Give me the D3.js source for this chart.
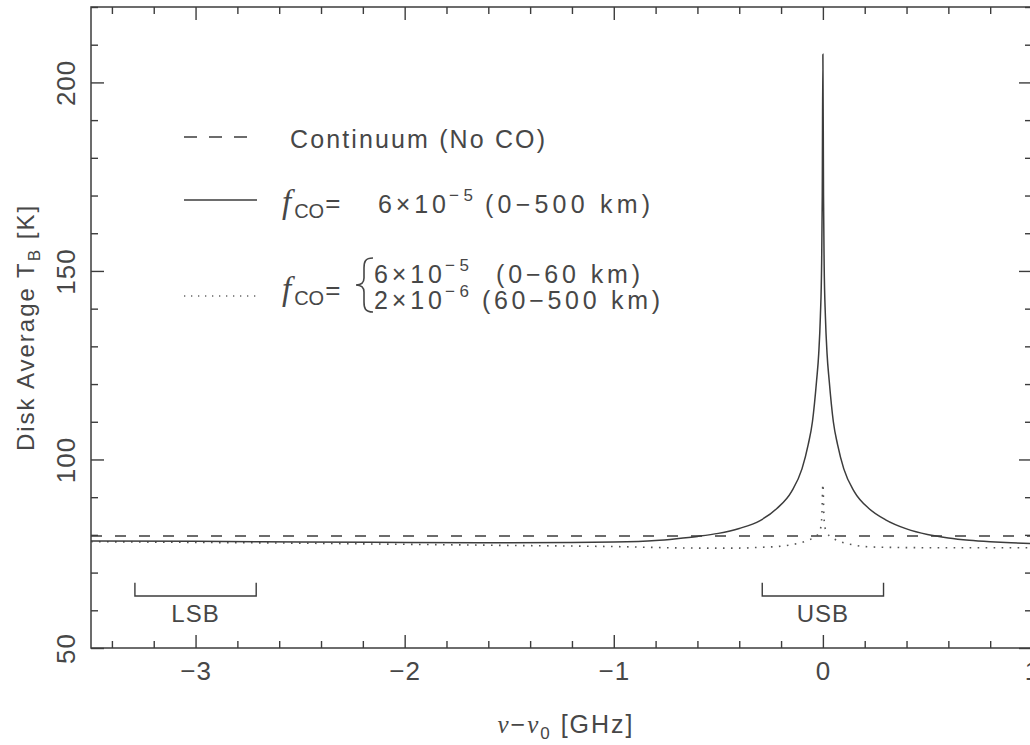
<!DOCTYPE html>
<html><head><meta charset="utf-8">
<script src="https://cdn.jsdelivr.net/npm/d3@7"></script>
<style>
body{margin:0;background:#fff;}
text{font-family:"Liberation Sans",Arial,sans-serif;fill:#474747;}
</style></head>
<body><svg id="c" width="1030" height="745"></svg>
<script>
// ---- data ----
const xDomain = [-3.5, 1];
const yDomain = [50, 220];
const xMajorTicks = [-3, -2, -1, 0, 1];
const xTickLabels = ["−3", "−2", "−1", "0", "1"];
const yMajorTicks = [50, 100, 150, 200];
const yTickLabels = ["50", "100", "150", "200"];

const contX = [-3.5, 1.0];
const contT = [79.7, 79.7];

const solidX = [-3.5,-3.0,-2.5,-2.0,-1.5,-1.2,-1.0,-0.8,-0.7,-0.6,-0.5,-0.4,-0.3,-0.22,-0.15,-0.1,-0.07,-0.05,-0.03,-0.02,-0.012,-0.006,-0.003,0,
                0.003,0.006,0.012,0.02,0.03,0.05,0.07,0.1,0.15,0.22,0.3,0.4,0.5,0.6,0.7,0.8,0.9,1.0];
const solidT = [78.4,78.3,78.1,78.0,77.9,78.0,78.1,78.5,79.0,79.6,80.4,81.7,83.8,87.0,91.5,97.5,104,110,121,128,138,152,170,207.5,
                170,152,138,128,121,110,104,97.5,91.5,87.0,84.0,81.6,80.1,79.2,78.6,78.2,77.9,77.7];

const dotX = [-3.5,-3.0,-2.5,-2.0,-1.5,-1.0,-0.6,-0.4,-0.3,-0.2,-0.15,-0.1,-0.07,-0.04,-0.02,-0.01,-0.005,0,
              0.005,0.01,0.02,0.04,0.07,0.1,0.15,0.2,0.3,0.5,1.0];
const dotT = [78.2,78.0,77.8,77.5,77.2,76.9,76.5,76.5,76.7,77.0,77.4,78.0,78.6,79.4,80.5,82.0,85.0,93.5,
              85.0,82.0,80.5,79.4,78.5,77.9,77.3,76.9,76.7,76.6,76.6];

const bandNames = ["LSB", "USB"];
const bandLo = [-3.29, -0.29];
const bandHi = [-2.71, 0.29];
const bandBarT = 63.8, bandTickT = 67.3, bandLabelT = 56.9;

// ---- layout ----
const svg = d3.select("#c");
const L = 91, R = 1032, T = 7, B = 648;
const x = d3.scaleLinear().domain(xDomain).range([L, R]);
const y = d3.scaleLinear().domain(yDomain).range([B, T]);
const ink = "#3c3c3c";

const xMinor = d3.range(-3.4, 1.01, 0.2).map(v => +v.toFixed(2)).filter(v => Math.abs(v - Math.round(v)) > 1e-6);
const yMinor = d3.range(60, 221, 10).filter(v => v % 50 !== 0);

function styleAxis(g){ g.select(".domain").remove(); g.selectAll("line").attr("stroke", ink).attr("stroke-width", 1.4); }

// frame
svg.append("rect").attr("x", L).attr("y", T).attr("width", R - L).attr("height", B - T)
  .attr("fill", "none").attr("stroke", ink).attr("stroke-width", 1.5);

// bottom
svg.append("g").attr("transform", `translate(0,${B})`)
  .call(d3.axisBottom(x).tickValues(xMajorTicks).tickSize(-13).tickPadding(14).tickFormat((d,i) => xTickLabels[i]))
  .call(styleAxis)
  .call(g => g.selectAll("text").attr("font-size", 26).attr("fill", "#474747").attr("font-family", "Liberation Sans, Arial, sans-serif").style("letter-spacing", "1px"));
svg.append("g").attr("transform", `translate(0,${B})`)
  .call(d3.axisBottom(x).tickValues(xMinor).tickSize(-7).tickFormat(""))
  .call(styleAxis);
// top
svg.append("g").attr("transform", `translate(0,${T})`)
  .call(d3.axisTop(x).tickValues(xMajorTicks).tickSize(-13).tickFormat(""))
  .call(styleAxis);
svg.append("g").attr("transform", `translate(0,${T})`)
  .call(d3.axisTop(x).tickValues(xMinor).tickSize(-7).tickFormat(""))
  .call(styleAxis);
// left
svg.append("g").attr("transform", `translate(${L},0)`)
  .call(d3.axisLeft(y).tickValues(yMajorTicks).tickSize(-13).tickFormat((d,i) => yTickLabels[i]))
  .call(styleAxis)
  .call(g => g.selectAll("text").attr("x", null).attr("dy", null)
      .attr("transform", "translate(-16,0) rotate(-90)").attr("text-anchor", "middle")
      .attr("font-size", 26).attr("fill", "#474747").attr("font-family", "Liberation Sans, Arial, sans-serif").style("letter-spacing", "1px"));
svg.append("g").attr("transform", `translate(${L},0)`)
  .call(d3.axisLeft(y).tickValues(yMinor).tickSize(-7).tickFormat(""))
  .call(styleAxis);
// right
svg.append("g").attr("transform", `translate(${R},0)`)
  .call(d3.axisRight(y).tickValues(yMajorTicks).tickSize(-13).tickFormat(""))
  .call(styleAxis);
svg.append("g").attr("transform", `translate(${R},0)`)
  .call(d3.axisRight(y).tickValues(yMinor).tickSize(-7).tickFormat(""))
  .call(styleAxis);

// curves
const line = d3.line().x(d => x(d[0])).y(d => y(d[1])).curve(d3.curveMonotoneX);
const plot = svg.append("g");
plot.append("path").datum(d3.zip(contX, contT)).attr("d", line)
  .attr("fill", "none").attr("stroke", ink).attr("stroke-width", 1.5).attr("stroke-dasharray", "11,13");
plot.append("path").datum(d3.zip(dotX, dotT)).attr("d", line)
  .attr("fill", "none").attr("stroke", "#555").attr("stroke-width", 1.6).attr("stroke-dasharray", "1.6,6.4");
plot.append("path").datum(d3.zip(solidX, solidT)).attr("d", line)
  .attr("fill", "none").attr("stroke", ink).attr("stroke-width", 1.5);

// sidebands
bandNames.forEach((n, i) => {
  const x0 = x(bandLo[i]), x1 = x(bandHi[i]);
  svg.append("path").attr("d", `M${x0},${y(bandTickT)}V${y(bandBarT)}H${x1}V${y(bandTickT)}`)
    .attr("fill", "none").attr("stroke", ink).attr("stroke-width", 1.4);
  svg.append("text").attr("x", (x0 + x1) / 2).attr("y", y(bandLabelT)).attr("text-anchor", "middle")
    .attr("font-size", 24).style("letter-spacing", "1px").text(n);
});

// axis titles
const xt = svg.append("text").attr("x", 566).attr("y", 733).attr("text-anchor", "middle").attr("font-size", 25).style("letter-spacing", "2px");
xt.append("tspan").attr("font-family", "Liberation Serif, serif").attr("font-style", "italic").text("ν");
xt.append("tspan").text("−");
xt.append("tspan").attr("font-family", "Liberation Serif, serif").attr("font-style", "italic").text("ν");
xt.append("tspan").attr("font-size", 17).attr("dy", 6).text("0");
xt.append("tspan").attr("dy", -6).text(" [GHz]");

const yt = svg.append("text").attr("transform", `translate(34,${(T + B) / 2}) rotate(-90)`).attr("text-anchor", "middle").attr("font-size", 24).style("letter-spacing", "2px");
yt.append("tspan").text("Disk Average T");
yt.append("tspan").attr("font-size", 17).attr("dy", 6).text("B");
yt.append("tspan").attr("dy", -6).text(" [K]");

// legend
const lg = svg.append("g");
lg.append("line").attr("x1", 184).attr("x2", 257).attr("y1", 137).attr("y2", 137)
  .attr("stroke", ink).attr("stroke-width", 1.5).attr("stroke-dasharray", "13,12");
lg.append("line").attr("x1", 184).attr("x2", 257).attr("y1", 200).attr("y2", 200)
  .attr("stroke", ink).attr("stroke-width", 1.5);
lg.append("line").attr("x1", 184).attr("x2", 257).attr("y1", 296).attr("y2", 296)
  .attr("stroke", "#666").attr("stroke-width", 1.3).attr("stroke-dasharray", "1.3,5.7");

const fs = 25;
function txt(xp, yb, s, w, size){
  return lg.append("text").attr("x", xp).attr("y", yb).attr("font-size", size || fs)
    .attr("textLength", w).attr("lengthAdjust", "spacing").text(s);
}
txt(290, 148, "Continuum (No CO)", 255);

function fco(xp, yb){
  const t = lg.append("text").attr("x", xp).attr("y", yb).attr("font-size", fs);
  t.append("tspan").attr("font-family", "Liberation Serif, serif").attr("font-style", "italic").attr("font-size", 33).text("f");
  t.append("tspan").attr("font-size", 20).attr("dy", 5).attr("dx", 3).text("CO");
  t.append("tspan").attr("dy", -6).attr("dx", 1).attr("font-size", 26).text("=");
}
function pow(xp, yb, mant, ex, rest, xr, wr){
  txt(xp, yb, mant + "×10", 68);
  txt(xp + 71, yb - 12, ex, 24, 17);
  txt(xr, yb, rest, wr);
}
fco(282, 213);
pow(378, 213, "6", "−5", "(0−500 km)", 485, 165);
fco(282, 300);
lg.append("path")
  .attr("d", "M373,258 C365,258 364,262 364,268 L364,278 C364,283 361,285 356,285 C361,285 364,287 364,292 L364,302 C364,308 365,312 373,312")
  .attr("fill", "none").attr("stroke", "#474747").attr("stroke-width", 1.6);
pow(374, 283, "6", "−5", "(0−60 km)", 496, 144);
pow(374, 309, "2", "−6", "(60−500 km)", 482, 178);
</script></body></html>
